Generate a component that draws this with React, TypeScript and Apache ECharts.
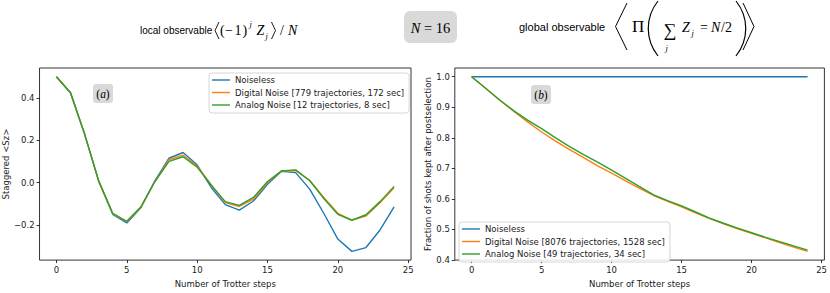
import React, { useEffect, useRef } from "react";
import * as echarts from "echarts";

const steps = [0, 1, 2, 3, 4, 5, 6, 7, 8, 9, 10, 11, 12, 13, 14, 15, 16, 17, 18, 19, 20, 21, 22, 23, 24];

const szNoiseless = [0.5, 0.424, 0.229, 0.008, -0.15, -0.191, -0.119, 0.008, 0.115, 0.142, 0.084, -0.023, -0.104, -0.13, -0.087, -0.008, 0.053, 0.047, -0.031, -0.145, -0.267, -0.325, -0.307, -0.224, -0.115];
const szDigital = [0.5, 0.424, 0.23, 0.008, -0.147, -0.185, -0.117, 0.005, 0.108, 0.13, 0.078, -0.01, -0.095, -0.113, -0.078, 0.0, 0.055, 0.057, 0.01, -0.07, -0.145, -0.177, -0.158, -0.095, -0.025];
const szAnalog = [0.5, 0.424, 0.23, 0.008, -0.145, -0.183, -0.115, 0.005, 0.1, 0.122, 0.073, -0.012, -0.09, -0.108, -0.07, 0.005, 0.055, 0.06, 0.01, -0.075, -0.15, -0.178, -0.152, -0.09, -0.018];

const fracNoiseless = [1, 1, 1, 1, 1, 1, 1, 1, 1, 1, 1, 1, 1, 1, 1, 1, 1, 1, 1, 1, 1, 1, 1, 1, 1];
const fracDigital = [1.0, 0.962, 0.924, 0.887, 0.852, 0.819, 0.789, 0.761, 0.735, 0.708, 0.684, 0.659, 0.634, 0.611, 0.592, 0.574, 0.554, 0.535, 0.518, 0.502, 0.487, 0.472, 0.457, 0.442, 0.428];
const fracAnalog = [1.0, 0.962, 0.924, 0.889, 0.858, 0.83, 0.8, 0.771, 0.745, 0.72, 0.694, 0.667, 0.64, 0.613, 0.594, 0.577, 0.557, 0.537, 0.52, 0.504, 0.489, 0.474, 0.46, 0.446, 0.432];

const xTicks = [0, 5, 10, 15, 20, 25];
const yTicksA = [-0.2, 0, 0.2, 0.4];
const yTicksB = [0.4, 0.5, 0.6, 0.7, 0.8, 0.9, 1.0];

const namesA = ["Noiseless", "Digital Noise [779 trajectories, 172 sec]", "Analog Noise [12 trajectories, 8 sec]"];
const namesB = ["Noiseless", "Digital Noise [8076 trajectories, 1528 sec]", "Analog Noise [49 trajectories, 34 sec]"];
const colors = ["#1f77b4", "#ff7f0e", "#2ca02c"];

const SANS = "DejaVu Sans";
const HSANS = "Liberation Sans";
const SERIF = "Liberation Serif";
const TXT = "#1a1a1a";

function pairs(ys: number[]) {
  return steps.map((s, i) => [s, ys[i]]);
}

function fmt(v: number) {
  const s = Math.abs(v).toFixed(1);
  return v < -1e-9 ? "\u2212" + s : s;
}

function txt(x: number, y: number, text: string, size: number, family: string, italic = false, align = "left") {
  return {
    type: "text",
    x,
    y,
    silent: true,
    style: {
      text,
      fontSize: size,
      fontFamily: family,
      fontStyle: italic ? "italic" : "normal",
      fill: "#000",
      align,
      textAlign: align,
      verticalAlign: "middle",
      textVerticalAlign: "middle",
    },
  };
}

function line(points: number[][], w = 1) {
  return { type: "polyline", silent: true, shape: { points }, style: { stroke: "#000", lineWidth: w, fill: null } };
}

function paren(x1: number, y1: number, cx: number, y2: number, w = 1.1) {
  return {
    type: "bezierCurve",
    silent: true,
    shape: { x1, y1, x2: x1, y2, cpx1: cx, cpy1: y1 + (y2 - y1) * 0.3, cpx2: cx, cpy2: y1 + (y2 - y1) * 0.7 },
    style: { stroke: "#000", lineWidth: w, fill: null },
  };
}

function labelBox(x: number, y: number, w: number, h: number, letter: string) {
  return [
    { type: "rect", silent: true, shape: { x, y, width: w, height: h, r: 3 }, style: { fill: "#d9d9d9" } },
    {
      type: "text",
      silent: true,
      x: x + w / 2,
      y: y + h / 2,
      style: {
        text: "({i|" + letter + "})",
        fontSize: 11.5,
        fontFamily: SERIF,
        fill: "#000",
        align: "center",
        textAlign: "center",
        verticalAlign: "middle",
        textVerticalAlign: "middle",
        rich: { i: { fontSize: 11.5, fontFamily: SERIF, fontStyle: "italic", fill: "#000" } },
      },
    },
  ];
}

function makeX(grid: number, name: string) {
  return {
    type: "value",
    gridIndex: grid,
    min: -1.2,
    max: 25.2,
    name,
    nameLocation: "middle",
    nameGap: 18,
    nameTextStyle: { fontSize: 8.5, fontFamily: SANS, color: TXT },
    axisLine: { show: false, onZero: false },
    axisTick: { show: true, length: 3, customValues: xTicks, lineStyle: { color: "#000", width: 0.8 } },
    axisLabel: { customValues: xTicks, margin: 5, fontSize: 8.5, fontFamily: SANS, color: TXT },
    splitLine: { show: false },
  };
}

function makeY(grid: number, name: string, min: number, max: number, ticks: number[], gap: number) {
  return {
    type: "value",
    gridIndex: grid,
    min,
    max,
    name,
    nameLocation: "middle",
    nameGap: gap,
    nameTextStyle: { fontSize: 8.5, fontFamily: SANS, color: TXT },
    axisLine: { show: false, onZero: false },
    axisTick: { show: true, length: 3, customValues: ticks, lineStyle: { color: "#000", width: 0.8 } },
    axisLabel: { customValues: ticks, margin: 5, fontSize: 8.5, fontFamily: SANS, color: TXT, formatter: (v: number) => fmt(v) },
    splitLine: { show: false },
  };
}

function makeSeries(name: string, ys: number[], idx: number, color: string) {
  return {
    type: "line",
    name,
    xAxisIndex: idx,
    yAxisIndex: idx,
    data: pairs(ys),
    showSymbol: false,
    symbol: "none",
    lineStyle: { color, width: 1.4 },
    itemStyle: { color },
    emphasis: { disabled: true },
  };
}

function makeLegend(names: string[], left: number, top: number) {
  return {
    orient: "vertical",
    left,
    top,
    data: names,
    selectedMode: false,
    icon: "rect",
    itemWidth: 18,
    itemHeight: 1.4,
    itemGap: 2.5,
    padding: [2, 5, 3, 3],
    backgroundColor: "rgba(255,255,255,0.85)",
    borderColor: "#cccccc",
    borderWidth: 0.8,
    borderRadius: 3,
    textStyle: { fontSize: 8.5, fontFamily: SANS, color: TXT, lineHeight: 10 },
  };
}

export default function App() {
  const ref = useRef<HTMLDivElement>(null);
  useEffect(() => {
    if (!ref.current) return;
    const chart = echarts.init(ref.current, null, { renderer: "svg" });
    const graphic: any[] = [
      // local observable header
      txt(140, 30, "local observable", 10, HSANS),
      line([[219, 22], [215, 30.5], [219, 39]], 0.9),
      txt(220, 30.5, "(", 14, SERIF),
      txt(225, 30.5, "\u2212", 14, SERIF),
      txt(234.5, 30.5, "1", 14, SERIF),
      txt(242.5, 30.5, ")", 14, SERIF),
      txt(249.5, 24, "j", 8.5, SERIF, true),
      txt(256.5, 30.5, "Z", 14, SERIF, true),
      txt(265.5, 36, "j", 8.5, SERIF, true),
      line([[271.5, 22], [275.5, 30.5], [271.5, 39]], 0.9),
      txt(282, 30.5, "/", 14, SERIF, false, "center"),
      txt(288, 30.5, "N", 14, SERIF, true),
      // N = 16 box
      { type: "rect", silent: true, shape: { x: 404, y: 11, width: 53, height: 32, r: 6 }, style: { fill: "#d9d9d9" } },
      {
        type: "text",
        silent: true,
        x: 430.5,
        y: 27.5,
        style: {
          text: "{i|N} = 16",
          fontSize: 14.5,
          fontFamily: SERIF,
          fill: "#000",
          align: "center",
          textAlign: "center",
          verticalAlign: "middle",
          textVerticalAlign: "middle",
          rich: { i: { fontSize: 14.5, fontFamily: SERIF, fontStyle: "italic", fill: "#000" } },
        },
      },
      // global observable header
      txt(519, 27, "global observable", 11, HSANS),
      line([[627, 3], [615.5, 26.5], [627, 50]], 1),
      txt(632, 26, "\u03A0", 17, SERIF),
      paren(658, 1, 645, 56, 1.2),
      txt(670, 30, "\u2211", 18, SERIF, false, "center"),
      txt(665.5, 48, "j", 8.5, SERIF, true),
      txt(682, 27, "Z", 14, SERIF, true),
      txt(691.5, 32.5, "j", 8.5, SERIF, true),
      txt(700, 27, "=", 14, SERIF),
      txt(711, 27, "N", 14, SERIF, true),
      txt(721, 27, "/2", 14, SERIF),
      paren(736, 1, 749, 56, 1.2),
      line([[743, 3], [754, 26.5], [743, 50]], 1),
      ...labelBox(93, 84, 20, 19, "a"),
      ...labelBox(531, 85, 20, 19, "b"),
    ];
    chart.setOption({
      animation: false,
      backgroundColor: "#ffffff",
      grid: [
        { left: 38, top: 68, width: 373, height: 198.5, show: true, borderColor: "#000", borderWidth: 0.8, backgroundColor: "transparent" },
        { left: 454.8, top: 68, width: 372, height: 198.5, show: true, borderColor: "#000", borderWidth: 0.8, backgroundColor: "transparent" },
      ],
      xAxis: [makeX(0, "Number of Trotter steps"), makeX(1, "Number of Trotter steps")],
      yAxis: [
        makeY(0, "Staggered <Sz>", -0.36625, 0.54125, yTicksA, 29),
        makeY(1, "Fraction of shots kept after postselection", 0.3994, 1.0286, yTicksB, 21),
      ],
      legend: [makeLegend(namesA, 209, 73), makeLegend(namesB, 459, 222)],
      series: [
        makeSeries(namesA[0], szNoiseless, 0, colors[0]),
        makeSeries(namesA[1], szDigital, 0, colors[1]),
        makeSeries(namesA[2], szAnalog, 0, colors[2]),
        makeSeries(namesB[0], fracNoiseless, 1, colors[0]),
        makeSeries(namesB[1], fracDigital, 1, colors[1]),
        makeSeries(namesB[2], fracAnalog, 1, colors[2]),
      ],
      graphic,
    } as any);
    return () => chart.dispose();
  }, []);
  return <div ref={ref} style={{ position: "absolute", left: 0, top: 0, width: 830, height: 293 }} />;
}
